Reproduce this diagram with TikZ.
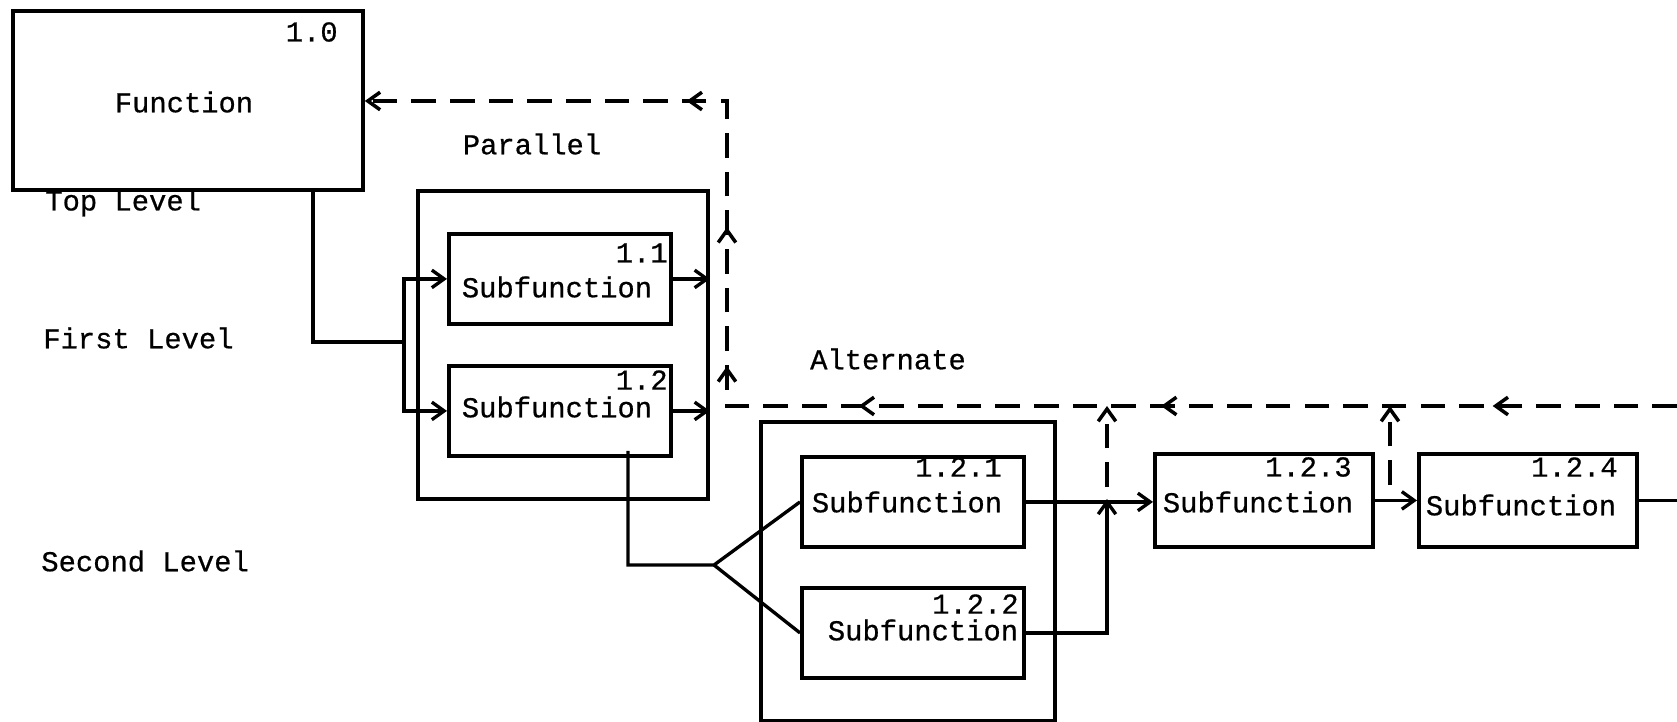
\documentclass[tikz,border=0pt]{standalone}
\usepackage{fontspec}
\setmainfont{Liberation Mono}[FakeBold=0.6]
\usetikzlibrary{arrows.meta,decorations.markings}

\begin{document}
\begin{tikzpicture}[x=0.02cm,y=-0.02cm,inner sep=0pt,
	font=\fontsize{16.4}{18}\selectfont,
	>={Straight Barb[length=7pt,width=10pt]},
	box/.style={draw,line width=2.2pt,anchor=north west},
	sub/.style={box,minimum width=4.45cm,minimum height=1.8cm},
	conn/.style={line width=1.9pt},
	fb/.style={line width=2pt,dash pattern=on 14pt off 8pt}]
	
	\useasboundingbox (0,0) rectangle (1677,722);
	\node[box,minimum width=7cm,minimum height=3.58cm] (F10) at (11,9) {};
	\node[box,minimum width=5.8cm,minimum height=6.16cm] (Par) at (416,189) {};
	\node[sub] (B11) at (447,232) {};
	\node[sub] (B12) at (447,364) {};
	\node[box,minimum width=5.88cm,minimum height=5.98cm] (Alt) at (759,420) {};
	\node[sub] (B121) at (800,455) {};
	\node[sub] (B122) at (800,586) {};
	\node[sub,minimum width=4.36cm,minimum height=1.86cm] (B123) at (1153,452) {};
	\node[sub,minimum width=4.36cm,minimum height=1.86cm] (B124) at (1417,452) {};
	
	\node[anchor=east] (n10) at (338,32) {1.0};
	\node (t10) at (184,102) {Function};
	\node[anchor=east] (n11) at (668,253) {1.1};
	\node (t11) at (557,287) {Subfunction};
	\node[anchor=east] (n12) at (668,380) {1.2};
	\node (t12) at (557,407) {Subfunction};
	\node[anchor=east] (n121) at (1002,467) {1.2.1};
	\node (t121) at (907,502) {Subfunction};
	\node[anchor=east] (n122) at (1019,604) {1.2.2};
	\node (t122) at (923,630) {Subfunction};
	\node[anchor=east] (n123) at (1352,467) {1.2.3};
	\node (t123) at (1258,502) {Subfunction};
	\node[anchor=east] (n124) at (1618,467) {1.2.4};
	\node (t124) at (1521,505) {Subfunction};
	
	\node[anchor=west] (top) at (45,203) {Top Level};
	\node[anchor=west] (first) at (43,338) {First Level};
	\node[anchor=west] (second) at (41,561) {Second Level};
	\node (par) at (532,144) {Parallel};
	\node (alt) at (888,359) {Alternate};
	
	\coordinate (f10out) at (313,188);
	\coordinate (split) at (404,342);
	\draw[conn] (f10out) |- (split);
	\draw[conn,->] (split) |- (B11.west);
	\draw[conn,->] (split) |- (B12.west);
	\draw[conn,->] (B11.east) -- (B11.east -| Par.east);
	\draw[conn,->] (B12.east) -- (B12.east -| Par.east);
	
	\coordinate (b12out) at (628,451);
	\coordinate (fork) at (714,565);
	\draw[conn] (b12out) |- (fork) -- (B121.west);
	\draw[conn] (fork) -- (B122.west);
	\coordinate (join) at (1107,499);
	\draw[conn,->] (B121.east) -- (B121.east -| B123.west);
	\draw[conn,->] (B122.east) -| (join);
	\draw[conn,->] (B123.east) -- (B124.west);
	\coordinate (exit) at (1677,498);
	\draw[conn] (B124.east) -- (B124.east -| exit);
	
	\coordinate (fbtop) at (727,101);
	\coordinate (fbbot) at (727,406);
	\coordinate (fbend) at (1677,406);
	\draw[fb,->,postaction={decorate},decoration={markings,
		mark=at position 0.114 with {\arrow{>}},
		mark=at position 0.319 with {\arrow{>}},
		mark=at position 0.506 with {\arrow{>}},
		mark=at position 0.612 with {\arrow{>}},
		mark=at position 0.698 with {\arrow{>}},
		mark=at position 0.801 with {\arrow{>}}}]
		(fbend) -- (fbbot) -- (fbtop) -- (F10.east |- fbtop);
	\coordinate (tap) at (1390,497);
	\draw[fb,->] ([yshift=0.24cm]join) -- (join |- fbend);
	\draw[fb,->] ([yshift=0.24cm]tap) -- (tap |- fbend);
	
\end{tikzpicture}
\end{document}
